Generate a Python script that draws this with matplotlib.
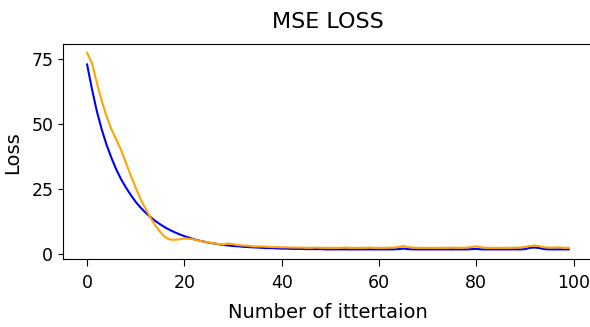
import matplotlib
matplotlib.use("Agg")
import matplotlib.pyplot as plt

# loss per iteration
iters = list(range(100))
loss_blue = [73.0, 63.5, 55.0, 48.0, 42.0, 37.0, 32.5, 28.7, 25.5, 22.6,
             20.0, 17.8, 15.9, 14.2, 12.7, 11.4, 10.2, 9.2, 8.3, 7.5,
             6.8, 6.2, 5.6, 5.1, 4.7, 4.3, 4.0, 3.7, 3.4, 3.2,
             3.0, 2.9, 2.7, 2.6, 2.5, 2.4, 2.3, 2.2, 2.2, 2.1,
             2.0, 2.0, 1.9, 1.9, 1.9, 1.8, 1.8, 1.8, 1.8, 1.7,
             1.7, 1.7, 1.7, 1.7, 1.7, 1.7, 1.7, 1.7, 1.7, 1.7,
             1.7, 1.7, 1.7, 1.7, 1.8, 2.0, 1.8, 1.7, 1.7, 1.7,
             1.7, 1.7, 1.7, 1.7, 1.7, 1.7, 1.7, 1.7, 1.7, 1.8,
             1.9, 1.7, 1.7, 1.7, 1.7, 1.7, 1.7, 1.7, 1.7, 1.7,
             1.8, 2.3, 2.4, 2.2, 1.8, 1.7, 1.7, 1.7, 1.7, 1.7]
loss_orange = [77.5, 73.5, 66.0, 59.0, 53.0, 48.0, 44.0, 40.0, 35.0, 30.0,
               25.5, 21.0, 17.5, 14.0, 11.0, 8.5, 6.5, 5.5, 5.4, 5.6,
               5.9, 5.8, 5.5, 5.0, 4.7, 4.4, 4.0, 3.8, 3.6, 4.0,
               3.7, 3.4, 3.2, 3.1, 2.9, 2.8, 2.8, 2.7, 2.6, 2.6,
               2.5, 2.5, 2.4, 2.4, 2.4, 2.3, 2.3, 2.4, 2.3, 2.3,
               2.3, 2.3, 2.3, 2.4, 2.3, 2.3, 2.3, 2.3, 2.4, 2.3,
               2.3, 2.3, 2.4, 2.4, 2.6, 3.0, 2.6, 2.4, 2.3, 2.3,
               2.3, 2.3, 2.3, 2.3, 2.3, 2.4, 2.3, 2.3, 2.4, 2.6,
               2.9, 2.5, 2.3, 2.3, 2.3, 2.3, 2.3, 2.3, 2.4, 2.4,
               2.6, 3.0, 3.2, 2.9, 2.5, 2.4, 2.4, 2.5, 2.3, 2.3]

fig = plt.figure(figsize=(5.9, 3.27), dpi=100)
ax = fig.add_axes([0.1068, 0.208, 0.898, 0.6575])
ax.plot(iters, loss_blue, color="blue", lw=1.5)
ax.plot(iters, loss_orange, color="orange", lw=1.5)
ax.set_xlim(-4.95, 103.95)
ax.set_ylim(-2.0, 80.9)
ax.set_xticks([0, 20, 40, 60, 80, 100])
ax.set_yticks([0, 25, 50, 75])
ax.spines["right"].set_visible(False)
ax.tick_params(axis="x", length=5, pad=6, labelsize=12.5)
ax.tick_params(axis="y", length=3.5, pad=3.5, labelsize=12.5)

ax.set_title("MSE LOSS", fontsize=16, pad=11.5)
ax.set_xlabel("Number of ittertaion", fontsize=14)
ax.xaxis.set_label_coords(0.5, -0.205)
ax.set_ylabel("Loss", fontsize=14)
ax.yaxis.set_label_coords(-0.078, 0.493)

fig.savefig("out.png", dpi=100)
